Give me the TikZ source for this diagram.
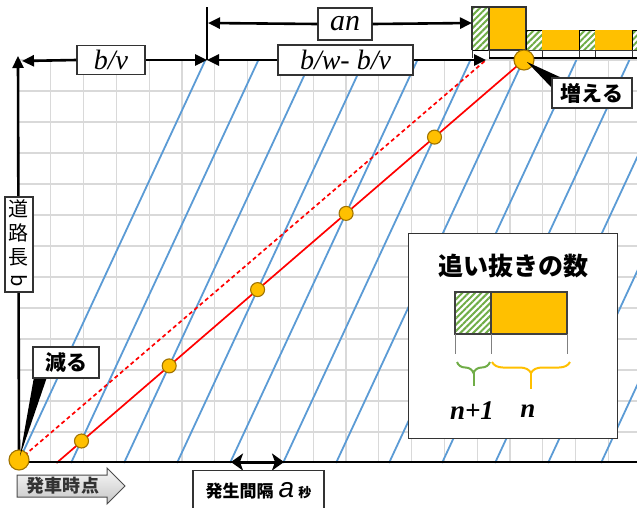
\documentclass[tikz,border=0pt]{standalone}
\usepackage{fontspec}
\setmainfont{Liberation Serif}
\newfontfamily\jp{Noto Sans CJK JP}
\newfontfamily\lsans{Liberation Sans}
\usetikzlibrary{arrows.meta,patterns.meta,decorations.pathreplacing,calc}
\definecolor{blu}{RGB}{91,155,213}
\definecolor{gold}{RGB}{255,192,0}
\definecolor{golddk}{RGB}{160,115,0}
\definecolor{grn}{RGB}{112,173,71}
\begin{document}
\begin{tikzpicture}[x=1pt,y=-1pt,
  gridline/.style={gray!30,line width=1.3pt},
  blueline/.style={blu,line width=1.8pt},
  redline/.style={red,line width=1.7pt},
  axisline/.style={line width=2.6pt},
  arr/.style={line width=2.6pt,-{Triangle[length=12pt,width=11pt]}},
  lbl/.style={draw=black!80,line width=1.3pt,fill=white,inner sep=0pt},
  dot/.style={circle,fill=gold,draw=golddk,line width=1.1pt,minimum size=14pt,inner sep=0pt},
  bigdot/.style={dot,minimum size=20pt},
  hatch/.style={pattern={Lines[angle=45,distance=4.5pt,line width=2pt]},pattern color=grn},
  mathtxt/.style={font=\itshape\fontsize{28}{30}\selectfont},
  jpbold/.style={font=\jp\bfseries\fontsize{#1}{#1}\selectfont},
  ]
\useasboundingbox (0,0) rectangle (637,507);
\fill[white] (0,0) rectangle (637,507);

% grid
\foreach \k in {1,...,18} \draw[gridline] (18+32.8*\k,60) -- (18+32.8*\k,463);
\foreach \k in {1,...,13} \draw[gridline] (18,463-31*\k) -- (637,463-31*\k);

% blue vehicle lines
\begin{scope}
\clip (18,60) rectangle (637,463);
\foreach \k in {0,...,11} \draw[blueline] (18+53*\k,463) -- (18+53*\k+187.4,60);
\end{scope}

% red lines
\coordinate (origin) at (19,460);
\coordinate (redStart) at (56.5,463);
\coordinate (redEnd) at (524,60);
\coordinate (dashEnd) at (486,60);
\draw[redline,dash pattern=on 4pt off 3pt] (origin) -- (dashEnd);
\draw[redline] (redStart) -- (redEnd);

% legend
\node[draw=black!80,line width=1.3pt,fill=white,minimum width=209pt,minimum height=205pt,anchor=north west,inner sep=0pt] (legend) at (408,233) {};
\node[jpbold=25] (ltitle) at (513,266) {追い抜きの数};
\draw[hatch] (455,292) rectangle (491,334);
\fill[gold] (491,292) rectangle (567,334);
\draw[black!75,line width=1.2pt] (455,292) rectangle (567,334) (491,292) -- (491,334);
\draw[gray,line width=1pt] (455,334) -- (455,354) (491,334) -- (491,354) (567,334) -- (567,354);
\draw[grn,line width=2pt,decorate,decoration={brace,mirror,amplitude=11pt}] (457,362) -- (490,362);
\draw[grn,line width=2pt] (473.5,372) -- (473.5,386);
\draw[gold,line width=2pt,decorate,decoration={brace,mirror,amplitude=11pt}] (492,362) -- (570,362);
\draw[gold,line width=2pt] (531,372) -- (531,389);
\node[font=\bfseries\itshape\fontsize{27}{28}\selectfont] (lnp) at (472,411) {n+1};
\node[font=\bfseries\itshape\fontsize{27}{28}\selectfont] (ln) at (528,411) {n};

% axes
\draw[axisline] (18,462) -- (637,462);
\draw[line width=2.6pt,-{Triangle[length=12pt,width=11pt]}] (origin) -- (18,56);

% top-right blocks
\draw[hatch] (472,7) rectangle (489,50);
\draw[black!80,line width=1.2pt] (472,50) -- (472,7) -- (489,7);
\fill[gold] (489,7) rectangle (526,50);
\draw[black!80,line width=1.2pt] (489,7) rectangle (526,50);
\draw[hatch] (526,30) rectangle (542,50);
\fill[gold] (542,30) rectangle (579,50);
\draw[hatch] (579,30) rectangle (595,50);
\fill[gold] (595,30) rectangle (632,50);
\draw[hatch] (632,30) rectangle (640,50);
\draw[black!80,line width=1pt] (526,50) -- (640,50);
\foreach \x in {472,489,526,542,579,595,632} \draw[black!80,line width=1pt] (\x,50) -- (\x,58);
\draw[black,line width=2.2pt] (489,58) -- (640,58);

% circles
\foreach \p in {(81.5,441),(169.2,365.9),(257.6,289.6),(346.1,213.4),(434.5,137.1)}
  \node[dot] at \p {};
\node[bigdot] (odot) at (origin) {};
\node[bigdot] (tdot) at (redEnd) {};

% top dimension arrows
\coordinate (tick) at (207,60);
\coordinate (tickTop) at (207,7);
\coordinate (corner) at (22,61);
\coordinate (anL) at (208,23);
\coordinate (anR) at (472,23);
\draw[line width=2.4pt] (tickTop) -- (tick);
\node[lbl,minimum width=68pt,minimum height=29pt,mathtxt] (bv) at (111,60) {b/v};
\node[lbl,minimum width=135pt,minimum height=30pt,mathtxt] (bwv) at (345.5,60) {b/w- b/v};
\node[lbl,minimum width=54pt,minimum height=32pt,font=\itshape\fontsize{30}{30}\selectfont] (an) at (345,24) {an};
\draw[arr] (bv.west) -- (corner);
\draw[arr] (bv.east) -- (tick);
\draw[arr] (bwv.west) -- (tick);
\draw[arr] (bwv.east) -- (dashEnd);
\draw[arr] (an.west) -- (anL);
\draw[arr] (an.east) -- (anR);

% callouts
\fill[black] (527,62) -- (562,78) -- (552,88) -- cycle;
\node[lbl,minimum width=80pt,minimum height=30pt,jpbold=21] (inc) at (592,93) {増える};
\fill[black] (34,377) -- (47,377) -- (20,456) -- cycle;
\node[lbl,minimum width=66pt,minimum height=31pt,jpbold=21] (dec) at (66,362.5) {減る};

% road length label
\node[lbl,minimum width=28pt,minimum height=95pt,font=\jp\fontsize{20}{24}\selectfont,align=center] (road) at (19,244.5) {道\\路\\長\\\rotatebox[origin=c]{-90}{b}};

% departure arrow
\shade[top color=gray!5,bottom color=gray!45,draw=black!70,line width=1pt]
  (17,475) -- (107,475) -- (107,468) -- (125,486) -- (107,504) -- (107,497) -- (17,497) -- cycle;
\node[jpbold=18,text=black!80] (dep) at (63,486) {発車時点};

% interval
\coordinate (b4) at (231,462);
\coordinate (b5) at (284,462);
\draw[line width=3pt,{Stealth[length=12pt,width=17pt,inset=3pt]}-{Stealth[length=12pt,width=17pt,inset=3pt]}] (b4) -- (b5);
\node[lbl,minimum width=131pt,minimum height=44pt,anchor=north] (intv) at (258.5,470) {};
\node (intvtxt) at (258.5,491) {{\jp\bfseries\fontsize{17}{19}\selectfont 発生間隔}\hspace{5pt}{\lsans\itshape\fontsize{28}{28}\selectfont a}\hspace{4pt}{\jp\bfseries\fontsize{13}{15}\selectfont 秒}};
\end{tikzpicture}
\end{document}
